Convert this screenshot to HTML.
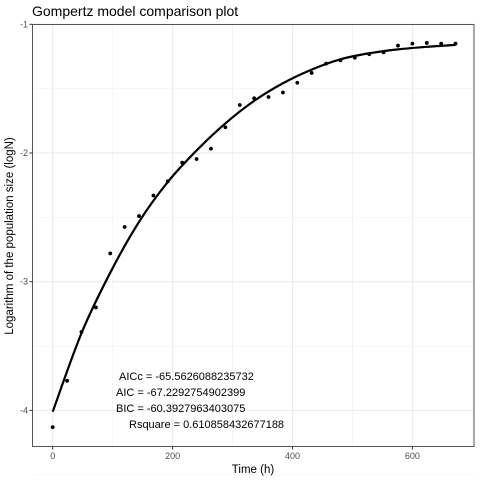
<!DOCTYPE html>
<html><head><meta charset="utf-8"><style>
body{margin:0;background:#fff;}
svg{display:block;font-family:"Liberation Sans",sans-serif;}
</style></head><body>
<svg id="chart" width="480" height="480">
<text x="32" y="16" font-size="14" fill="#000">Gompertz model comparison plot</text>
<g id="grid"></g>
<g id="marks"></g>
<rect x="32.5" y="24.5" width="441.5" height="422" fill="none" stroke="#555" stroke-width="1"/>
<g id="axes"></g>
<text x="253" y="473" font-size="11.5" text-anchor="middle">Time (h)</text>
<text transform="translate(13,236) rotate(-90)" font-size="11.5" text-anchor="middle">Logarithm of the population size (logN)</text>
<g font-size="11" fill="#000">
<text x="119" y="380">AICc = -65.5626088235732</text>
<text x="116" y="396">AIC = -67.2292754902399</text>
<text x="116" y="412">BIC = -60.3927963403075</text>
<text x="129" y="428">Rsquare = 0.610858432677188</text>
</g>
</svg>
<script>
const times = [0,24,48,72,96,120,144,168,192,216,240,264,288,312,336,360,384,408,432,456,480,504,528,552,576,600,624,648,672];
const logN = [-4.13,-3.77,-3.39,-3.20,-2.78,-2.575,-2.49,-2.33,-2.22,-2.075,-2.047,-1.967,-1.80,-1.627,-1.575,-1.565,-1.53,-1.454,-1.378,-1.306,-1.28,-1.26,-1.233,-1.218,-1.166,-1.15,-1.145,-1.15,-1.15];
const fitTimes = [0,48,96,144,192,240,288,336,384,432,480,528,576,624,672];
const fitValues = [-4.01,-3.40,-2.93,-2.535,-2.225,-1.98,-1.77,-1.595,-1.458,-1.352,-1.272,-1.225,-1.195,-1.175,-1.16];
const xTicks = [0,200,400,600];
const yTicks = [-1,-2,-3,-4];
const NS="http://www.w3.org/2000/svg";
const X = t => 52.7 + 0.5995*t;
const Y = v => 24.3 + (-1 - v)*128.7;
function mk(tag, attrs, parent){const e=document.createElementNS(NS,tag);for(const k in attrs)e.setAttribute(k,attrs[k]);parent.appendChild(e);return e;}
const grid=document.getElementById('grid'), marks=document.getElementById('marks'), axes=document.getElementById('axes');
for(let i=0;i<xTicks.length;i++){
  [xTicks[i]-100, xTicks[i]+100].forEach(m=>{
    const g1=mk('line',{x1:X(m),x2:X(m),y1:24.5,y2:446.5,stroke:'#f3f3f3','stroke-width':0.6},grid);
    
    
  });
}
for(let i=0;i<yTicks.length;i++){
  const m = yTicks[i]-0.5;
  const g1=mk('line',{x1:32.5,x2:474,y1:Y(m),y2:Y(m),stroke:'#f3f3f3','stroke-width':0.6},grid);
  
  
}
xTicks.forEach(t=>{
  const l=mk('line',{x1:X(t),x2:X(t),y1:24.5,y2:446.5,stroke:'#ebebeb','stroke-width':1.1},grid);
  
  
  const tk=mk('line',{x1:X(t),x2:X(t),y1:446.5,y2:449.5,stroke:'#333','stroke-width':1},axes);
  
  
  const tx=mk('text',{x:X(t),y:459,'font-size':9,'text-anchor':'middle',fill:'#4d4d4d'},axes);
  tx.textContent=t;
  
  
});
yTicks.forEach(v=>{
  const l=mk('line',{x1:32.5,x2:474,y1:Y(v),y2:Y(v),stroke:'#ebebeb','stroke-width':1.1},grid);
  
  
  const tk=mk('line',{x1:29.5,x2:32.5,y1:Y(v),y2:Y(v),stroke:'#333','stroke-width':1},axes);
  
  
  const tx=mk('text',{x:28,y:Y(v)+3,'font-size':9,'text-anchor':'end',fill:'#4d4d4d'},axes);
  tx.textContent=v;
  
  
});
const P = fitTimes.map((t,i)=>[X(t),Y(fitValues[i])]);
let d='M'+P[0][0].toFixed(2)+','+P[0][1].toFixed(2);
for(let i=0;i<P.length-1;i++){
  const p0=P[Math.max(0,i-1)], p1=P[i], p2=P[i+1], p3=P[Math.min(P.length-1,i+2)];
  const c1=[p1[0]+(p2[0]-p0[0])/6, p1[1]+(p2[1]-p0[1])/6];
  const c2=[p2[0]-(p3[0]-p1[0])/6, p2[1]-(p3[1]-p1[1])/6];
  d+=' C'+c1.map(n=>n.toFixed(2)).join(',')+' '+c2.map(n=>n.toFixed(2)).join(',')+' '+p2.map(n=>n.toFixed(2)).join(',');
}
const path=mk('path',{d:d,fill:'none',stroke:'#000','stroke-width':2.2},marks);


times.forEach((t,i)=>{
  const c=mk('circle',{cx:X(t),cy:Y(logN[i]),r:1.9,fill:'#000'},marks);
  
  
});
</script>
</body></html>
